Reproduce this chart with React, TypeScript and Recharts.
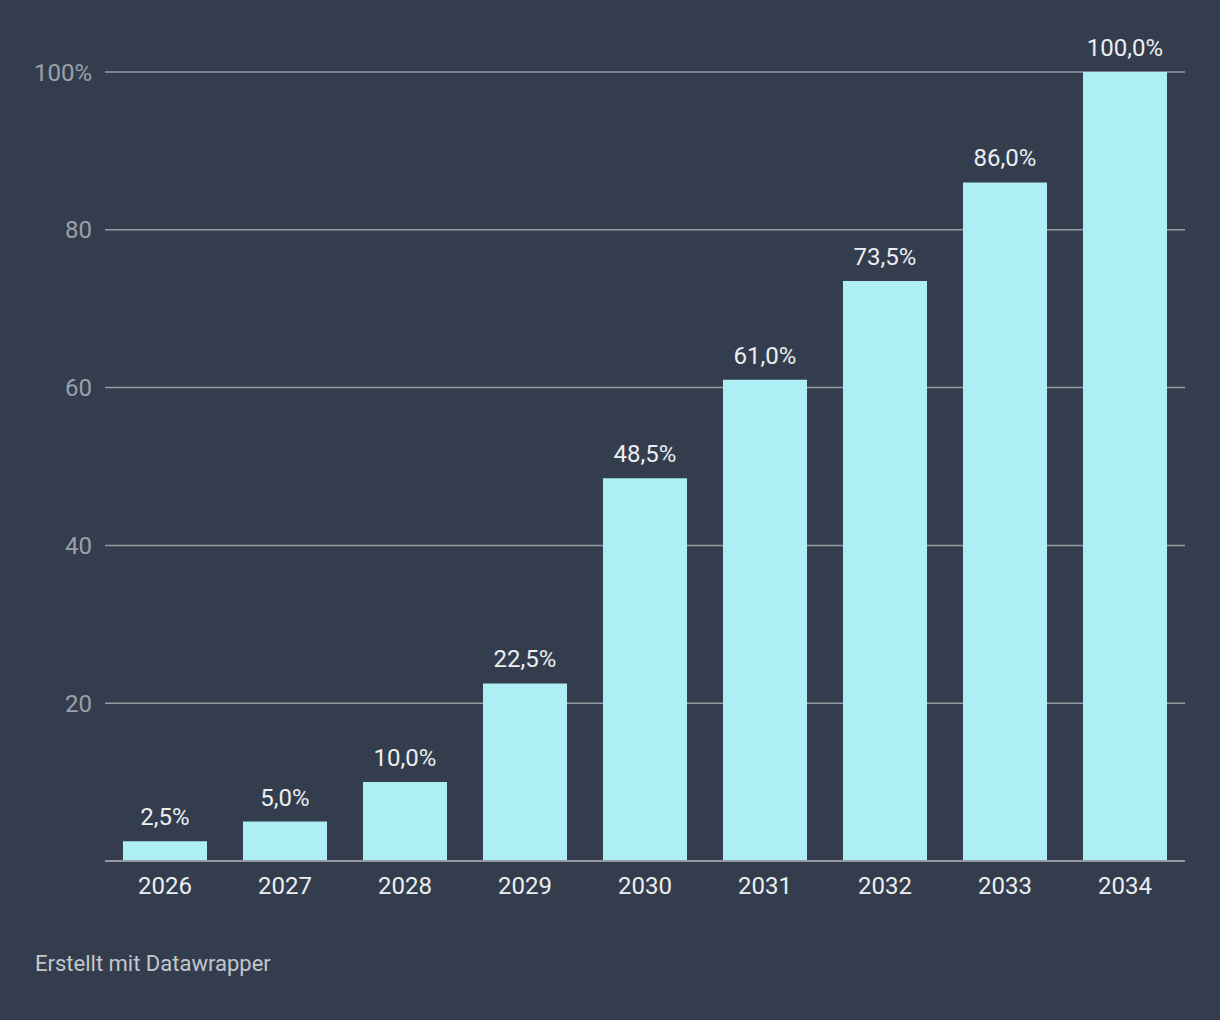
import React from 'react';
import { BarChart, Bar, XAxis, YAxis, CartesianGrid, LabelList } from 'recharts';

const years = ['2026', '2027', '2028', '2029', '2030', '2031', '2032', '2033', '2034'];
const shares = [2.5, 5.0, 10.0, 22.5, 48.5, 61.0, 73.5, 86.0, 100.0];
const yTicks = [0, 20, 40, 60, 80, 100];

const data = years.map((year, i) => ({ year, value: shares[i] }));

const BG = '#333d4e';
const BAR = '#aeeef5';
const GRID = '#979a9f';

const fmtTick = (v: number) => (v === 0 ? '' : v === 100 ? '100%' : String(v));
const fmtLabel = (v: number) => v.toFixed(1).replace('.', ',') + '%';

const App: React.FC = () => {
  return (
    <div
      style={{
        position: 'absolute',
        left: 0,
        top: 0,
        width: 1220,
        height: 1020,
        background: BG,
        fontFamily: 'Roboto, sans-serif',
      }}
    >
      <BarChart
        width={1220}
        height={1020}
        data={data}
        margin={{ top: 72, right: 35, bottom: 119, left: 0 }}
        barCategoryGap="15%"
      >
        <CartesianGrid vertical={false} stroke={GRID} strokeWidth={1.5} />
        <XAxis
          dataKey="year"
          tickLine={false}
          tickSize={0}
          tickMargin={16}
          height={40}
          axisLine={{ stroke: GRID, strokeWidth: 2 }}
          tick={{ fill: '#eceef0', fontSize: 24 }}
        />
        <YAxis
          width={105}
          domain={[0, 100]}
          ticks={yTicks}
          tickFormatter={fmtTick}
          axisLine={false}
          tickLine={false}
          tickSize={0}
          tickMargin={13}
          tick={{ fill: '#9aa1ab', fontSize: 24 }}
        />
        <Bar dataKey="value" fill={BAR} isAnimationActive={false}>
          <LabelList
            dataKey="value"
            position="top"
            offset={16}
            formatter={fmtLabel}
            fill="#eceef0"
            fontSize={24}
          />
        </Bar>
      </BarChart>
      <div
        style={{
          position: 'absolute',
          left: 35,
          top: 951,
          fontSize: 22,
          color: '#c3c7cc',
        }}
      >
        Erstellt mit Datawrapper
      </div>
    </div>
  );
};

export default App;
